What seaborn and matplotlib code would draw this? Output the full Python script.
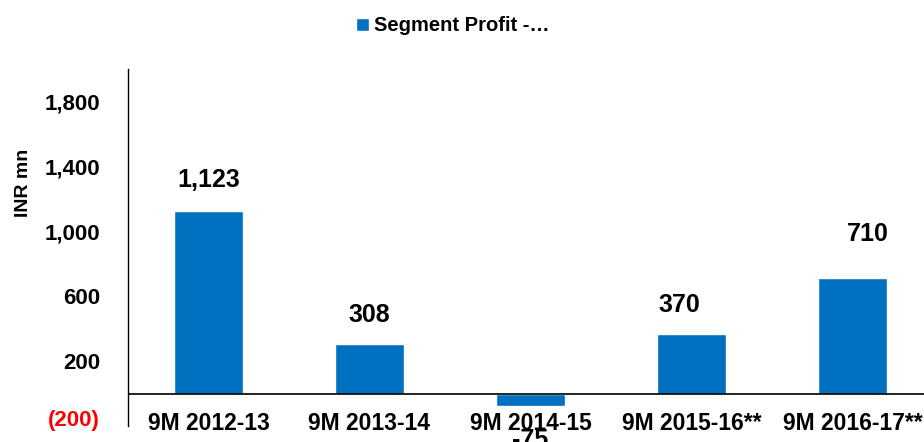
import matplotlib
matplotlib.use("Agg")
import matplotlib.pyplot as plt
import seaborn as sns
import pandas as pd

# data
periods = ["9M 2012-13", "9M 2013-14", "9M 2014-15", "9M 2015-16**", "9M 2016-17**"]
profit = [1123, 308, -75, 370, 710]
value_labels = ["1,123", "308", "-75", "370", "710"]
ytick_vals = [-200, 200, 600, 1000, 1400, 1800]
ytick_labels = ["(200)", "200", "600", "1,000", "1,400", "1,800"]
series_name = "Segment Profit -\u2026"

# manual nudges of the value labels (points), like in the original slide
lab_dx = [0, 0, 0, -9, 11]
lab_dy = [14, 12, -16, 12, 23]

sns.set_style("white")
plt.rcParams["font.family"] = ["Liberation Sans", "DejaVu Sans"]
plt.rcParams["font.weight"] = "bold"
plt.rcParams["text.color"] = "black"
plt.rcParams["axes.labelcolor"] = "black"
plt.rcParams["ytick.color"] = "black"

df = pd.DataFrame({"period": periods, "profit": profit})

fig = plt.figure(figsize=(9.24, 4.42), dpi=100)
ax = fig.add_axes([128 / 924, 16 / 442, 805 / 924, 357 / 442])

sns.barplot(data=df, x="period", y="profit", color="#0070C0", saturation=1,
            width=0.43, label=series_name, ax=ax)

ax.set_xlim(-0.5, 4.5)
ax.set_ylim(-200, 2000)
ax.axhline(0, color="black", lw=1.2)

for s in ["top", "right", "bottom"]:
    ax.spines[s].set_visible(False)
ax.spines["left"].set_color("black")
ax.spines["left"].set_linewidth(1.0)

ax.set_yticks(ytick_vals)
ax.set_yticklabels(ytick_labels, fontsize=16, fontweight="bold")
ax.tick_params(axis="y", length=0, pad=20)
lbl = ax.get_yticklabels()[0]
lbl.set_color("#FF0000")
lbl.set_va("baseline")

ax.set_xticks([])
ax.set_xlabel("")
ax.set_ylabel("INR mn", fontsize=14, fontweight="bold")
ax.yaxis.set_label_coords(-0.119, 0.68)

# category labels sit right under the zero line
for i, p in enumerate(periods):
    ax.annotate(p, (i, 0), xytext=(0, -13), textcoords="offset points",
                ha="center", va="top", fontsize=16.5, fontweight="bold")

for i, (v, t) in enumerate(zip(profit, value_labels)):
    ax.annotate(t, (i, v), xytext=(lab_dx[i], lab_dy[i]), textcoords="offset points",
                ha="center", va="bottom" if v >= 0 else "top",
                fontsize=18, fontweight="bold")

leg = ax.legend(loc="upper center", bbox_to_anchor=(0.49, 0.995),
                bbox_transform=fig.transFigure, frameon=False,
                handlelength=0.65, handleheight=0.65, handletextpad=0.25,
                prop={"size": 14.5, "weight": "bold"}, borderaxespad=0.3)

fig.savefig("out.png", dpi=100)
